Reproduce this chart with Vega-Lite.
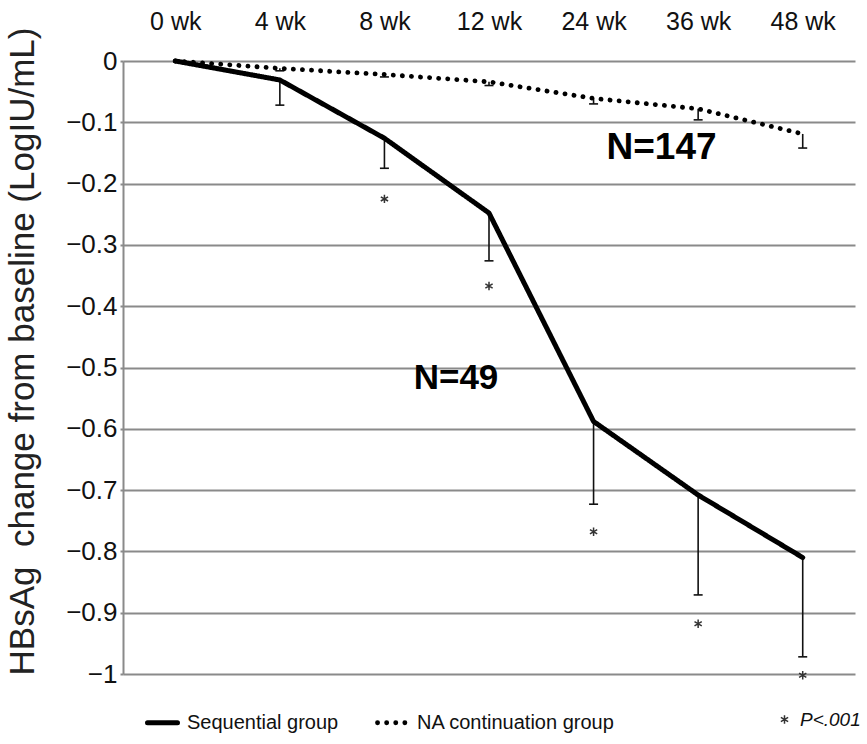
{
  "$schema": "https://vega.github.io/schema/vega-lite/v6.json",
  "width": 732,
  "height": 613,
  "autosize": {"type": "none"},
  "padding": {"left": 123, "top": 61, "right": 12, "bottom": 70},
  "background": "white",
  "config": {
    "view": {"stroke": null},
    "font": "Liberation Sans"
  },
  "datasets": {
    "change": [
      {"week": "0 wk", "group": "Sequential group", "mean": 0, "lower": null, "star": null, "sig": null},
      {"week": "4 wk", "group": "Sequential group", "mean": -0.031, "lower": -0.072, "star": null, "sig": null},
      {"week": "8 wk", "group": "Sequential group", "mean": -0.126, "lower": -0.175, "star": -0.225, "sig": "P<.001"},
      {"week": "12 wk", "group": "Sequential group", "mean": -0.248, "lower": -0.326, "star": -0.367, "sig": "P<.001"},
      {"week": "24 wk", "group": "Sequential group", "mean": -0.588, "lower": -0.723, "star": -0.768, "sig": "P<.001"},
      {"week": "36 wk", "group": "Sequential group", "mean": -0.708, "lower": -0.871, "star": -0.918, "sig": "P<.001"},
      {"week": "48 wk", "group": "Sequential group", "mean": -0.81, "lower": -0.972, "star": -1.002, "sig": "P<.001"},
      {"week": "0 wk", "group": "NA continuation group", "mean": 0, "lower": null, "star": null, "sig": null},
      {"week": "4 wk", "group": "NA continuation group", "mean": -0.012, "lower": -0.016, "star": null, "sig": null},
      {"week": "8 wk", "group": "NA continuation group", "mean": -0.022, "lower": -0.026, "star": null, "sig": null},
      {"week": "12 wk", "group": "NA continuation group", "mean": -0.034, "lower": -0.04, "star": null, "sig": null},
      {"week": "24 wk", "group": "NA continuation group", "mean": -0.061, "lower": -0.07, "star": null, "sig": null},
      {"week": "36 wk", "group": "NA continuation group", "mean": -0.078, "lower": -0.096, "star": null, "sig": null},
      {"week": "48 wk", "group": "NA continuation group", "mean": -0.119, "lower": -0.142, "star": null, "sig": null}
    ]
  },
  "data": {"name": "change"},
  "encoding": {
    "x": {
      "field": "week",
      "type": "ordinal",
      "scale": {
        "type": "point",
        "padding": 0.5,
        "domain": ["0 wk", "4 wk", "8 wk", "12 wk", "24 wk", "36 wk", "48 wk"]
      },
      "axis": {
        "orient": "top",
        "title": null,
        "domain": false,
        "ticks": false,
        "grid": false,
        "labelAngle": 0,
        "labelFontSize": 25,
        "labelColor": "#111",
        "labelPadding": 27
      }
    }
  },
  "layer": [
    {
      "transform": [{"filter": "isValid(datum.lower)"}],
      "mark": {"type": "rule", "color": "#111", "strokeWidth": 1.6},
      "encoding": {
        "y": {
          "field": "mean",
          "type": "quantitative",
          "scale": {"domain": [-1, 0], "nice": false, "zero": false},
          "axis": {
            "values": [0, -0.1, -0.2, -0.3, -0.4, -0.5, -0.6, -0.7, -0.8, -0.9, -1],
            "format": ".1~f",
            "grid": true,
            "gridColor": "#8a8a8a",
            "gridWidth": 2,
            "domainColor": "#8a8a8a",
            "domainWidth": 2,
            "tickColor": "#8a8a8a",
            "tickSize": 3,
            "tickWidth": 2,
            "labelFontSize": 26,
            "labelColor": "#111",
            "labelPadding": 3,
            "title": "HBsAg\u00a0 change from baseline (LogIU/mL)",
            "titleFontSize": 35,
            "titleFontWeight": "normal",
            "titleColor": "#222",
            "titleX": -101,
            "titleY": 290,
            "titleBaseline": "middle",
            "titleAlign": "center"
          }
        },
        "y2": {"field": "lower"}
      }
    },
    {
      "transform": [{"filter": "isValid(datum.lower)"}],
      "mark": {"type": "tick", "color": "#111", "size": 9, "thickness": 1.6, "opacity": 1},
      "encoding": {
        "y": {"field": "lower", "type": "quantitative"}
      }
    },
    {
      "mark": {"type": "line", "color": "black", "strokeCap": "round", "strokeJoin": "round"},
      "encoding": {
        "y": {"field": "mean", "type": "quantitative"},
        "strokeDash": {
          "field": "group",
          "type": "nominal",
          "scale": {
            "domain": ["Sequential group", "NA continuation group"],
            "range": [[1, 0], [0.1, 9]]
          },
          "legend": {
            "title": null,
            "orient": "none",
            "direction": "horizontal",
            "legendX": 22,
            "legendY": 644,
            "symbolType": "stroke",
            "symbolSize": 900,
            "symbolStrokeColor": "black",
            "labelFontSize": 20,
            "labelColor": "#111",
            "labelOffset": 7,
            "labelLimit": 400,
            "columnPadding": 28,
            "encode": {
              "symbols": {
                "update": {
                  "strokeCap": {"value": "round"},
                  "strokeWidth": {"signal": "datum.value === 'NA continuation group' ? 3 : 5"},
                  "strokeDash": {"signal": "datum.value === 'NA continuation group' ? [0.1, 6] : [1, 0]"}
                }
              }
            }
          }
        },
        "strokeWidth": {
          "field": "group",
          "type": "nominal",
          "scale": {
            "domain": ["Sequential group", "NA continuation group"],
            "range": [5, 4.8]
          },
          "legend": null
        }
      }
    },
    {
      "transform": [{"filter": "isValid(datum.star)"}],
      "mark": {"type": "point", "filled": false, "color": "#333", "strokeWidth": 1.5, "size": 70, "opacity": 1},
      "encoding": {
        "y": {"field": "star", "type": "quantitative"},
        "shape": {
          "field": "sig",
          "type": "nominal",
          "scale": {
            "domain": ["P<.001"],
            "range": ["M0,-1L0,1M-0.87,-0.5L0.87,0.5M-0.87,0.5L0.87,-0.5"]
          },
          "legend": {
            "title": null,
            "orient": "none",
            "legendX": 652,
            "legendY": 649,
            "symbolSize": 70,
            "symbolStrokeWidth": 1.5,
            "symbolStrokeColor": "#333",
            "symbolFillColor": "transparent",
            "labelFontSize": 19,
            "labelFontStyle": "italic",
            "labelColor": "#111",
            "labelOffset": 6,
            "labelLimit": 200
          }
        }
      }
    },
    {
      "data": {"values": [{"week": "24 wk", "value": -0.142, "text": "N=147"}]},
      "mark": {"type": "text", "fontSize": 37, "fontWeight": "bold", "dx": 68, "baseline": "middle", "align": "center", "color": "black"},
      "encoding": {
        "y": {"field": "value", "type": "quantitative"},
        "text": {"field": "text"}
      }
    },
    {
      "data": {"values": [{"week": "12 wk", "value": -0.517, "text": "N=49"}]},
      "mark": {"type": "text", "fontSize": 35, "fontWeight": "bold", "dx": -33, "baseline": "middle", "align": "center", "color": "black"},
      "encoding": {
        "y": {"field": "value", "type": "quantitative"},
        "text": {"field": "text"}
      }
    }
  ]
}
